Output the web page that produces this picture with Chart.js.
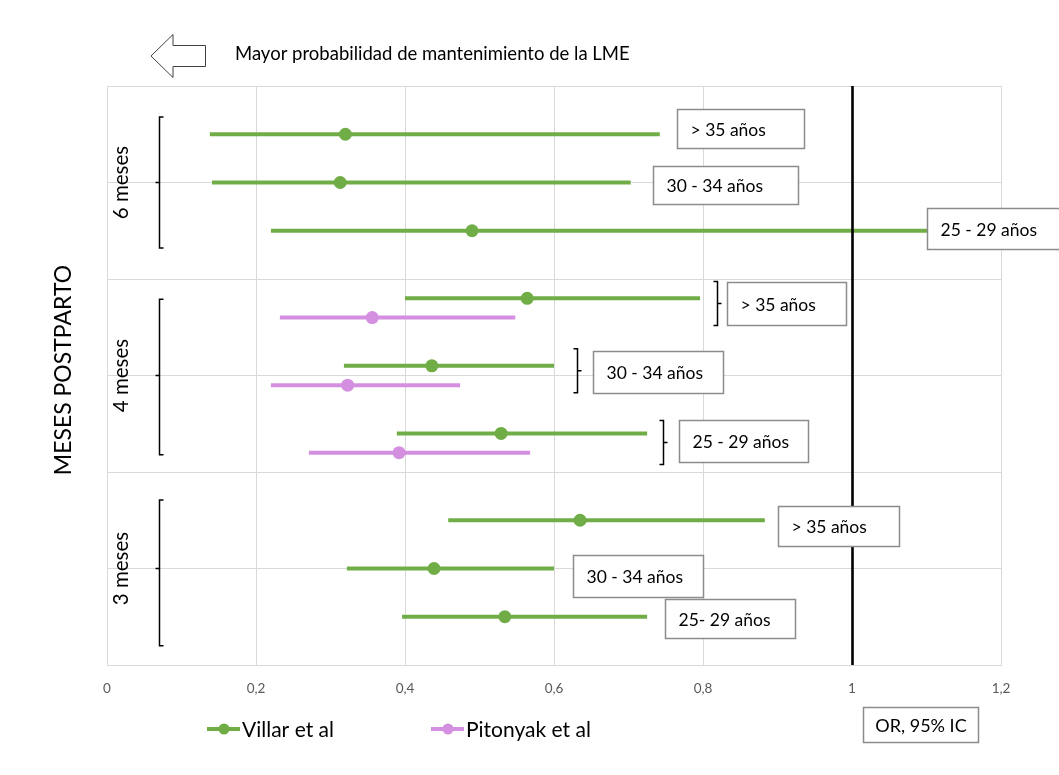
<!DOCTYPE html>
<html lang="es">
<head>
<meta charset="utf-8">
<script src="https://cdn.jsdelivr.net/npm/chart.js@4.4.1/dist/chart.umd.min.js"></script>
<style>
  html, body { margin: 0; padding: 0; background: #ffffff; }
  #wrap { width: 1059px; height: 775px; }
</style>
</head>
<body>
<div id="wrap"><canvas id="forest" width="1059" height="775"></canvas></div>
<script>
// ---- Data -------------------------------------------------------------
const xTicks = [0, 0.2, 0.4, 0.6, 0.8, 1, 1.2];
const months = ['6 meses', '4 meses', '3 meses'];
const monthCenter = [5, 3, 1];
const monthSpan = [[5.68, 4.32], [3.79, 2.18], [1.71, 0.2]];

// Villar et al: one row per age group, 6, 4 and 3 months postpartum
const villarY  = [5.5, 5.0, 4.5, 3.8, 3.1, 2.4, 1.5, 1.0, 0.5];
const villarOR = [0.32, 0.313, 0.49, 0.564, 0.436, 0.529, 0.635, 0.439, 0.534];
const villarLo = [0.138, 0.141, 0.22, 0.40, 0.318, 0.389, 0.458, 0.322, 0.396];
const villarHi = [0.742, 0.703, 1.12, 0.796, 0.60, 0.725, 0.883, 0.60, 0.725];

// Pitonyak et al: 4 months postpartum only
const pitonyakY  = [3.6, 2.9, 2.2];
const pitonyakOR = [0.356, 0.323, 0.392];
const pitonyakLo = [0.232, 0.22, 0.271];
const pitonyakHi = [0.548, 0.474, 0.568];

// Age-group call-outs
const ageLabels = ['> 35 años', '30 - 34 años', '25 - 29 años',
                   '> 35 años', '30 - 34 años', '25 - 29 años',
                   '> 35 años', '30 - 34 años', '25- 29 años'];
const labelX = [0.765, 0.733, 1.101, 0.832, 0.652, 0.768, 0.901, 0.626, 0.749];
const labelY = [5.56, 4.97, 4.52, 3.746, 3.036, 2.321, 1.44, 0.922, 0.482];
const labelW = [127, 145, 160, 119, 130, 129, 121, 130, 130];
const labelH = [39, 38, 41, 43, 42, 42, 40, 42, 39];

// Small braces joining the two studies at 4 months
const braceX = [0.819, 0.631, 0.746];
const braceY = [3.746, 3.05, 2.306];

const seriesNames = ['Villar et al', 'Pitonyak et al'];
const GREEN = '#70AD47';
const PINK = '#D48FE0';
const FONT = 'Lato, "Open Sans", sans-serif';

// ---- Datasets: one horizontal interval per row -------------------------
function rows(ys, lo, or, hi, color, name) {
  return ys.map((y, i) => ({
    label: name,
    data: [{ x: lo[i], y }, { x: or[i], y }, { x: hi[i], y }],
    showLine: true,
    borderColor: color,
    backgroundColor: color,
    borderWidth: 4,
    borderCapStyle: 'butt',
    pointRadius: [0, 6.5, 0],
    pointHoverRadius: [0, 6.5, 0],
    pointBorderWidth: 0
  }));
}

const datasets = [
  ...rows(villarY, villarLo, villarOR, villarHi, GREEN, seriesNames[0]),
  ...rows(pitonyakY, pitonyakLo, pitonyakOR, pitonyakHi, PINK, seriesNames[1])
];

function fmtTick(v) {
  return String(Number(v.toFixed(1))).replace('.', ',');
}

// ---- Decorations drawn on top of the data -------------------------------
const decorations = {
  id: 'decorations',
  afterDatasetsDraw(chart) {
    const ctx = chart.ctx;
    const xs = chart.scales.x, ys = chart.scales.y;
    const area = chart.chartArea;
    ctx.save();

    // reference line at OR = 1
    const x1 = Math.round(xs.getPixelForValue(1)) + 0.5;
    ctx.strokeStyle = '#000000';
    ctx.lineWidth = 2.6;
    ctx.beginPath();
    ctx.moveTo(x1, area.top);
    ctx.lineTo(x1, area.bottom);
    ctx.stroke();

    // left brackets grouping each month
    ctx.lineWidth = 1.5;
    ctx.strokeStyle = '#000000';
    const bx = Math.round(xs.getPixelForValue(0.07)) + 0.5;
    monthSpan.forEach((s, i) => {
      const t = ys.getPixelForValue(s[0]);
      const b = ys.getPixelForValue(s[1]);
      const c = ys.getPixelForValue(monthCenter[i]);
      ctx.beginPath();
      ctx.moveTo(bx + 4, t); ctx.lineTo(bx, t); ctx.lineTo(bx, b); ctx.lineTo(bx + 4, b);
      ctx.moveTo(bx, c); ctx.lineTo(bx - 4, c);
      ctx.stroke();
    });

    // small right braces at 4 months
    braceX.forEach((v, i) => {
      const x = Math.round(xs.getPixelForValue(v)) + 0.5;
      const c = ys.getPixelForValue(braceY[i]);
      const h = 22;
      ctx.beginPath();
      ctx.moveTo(x - 4, c - h); ctx.lineTo(x, c - h); ctx.lineTo(x, c + h); ctx.lineTo(x - 4, c + h);
      ctx.moveTo(x, c); ctx.lineTo(x + 4, c);
      ctx.stroke();
    });

    // age-group boxes
    ctx.font = '17.5px ' + FONT;
    ctx.textBaseline = 'middle';
    ctx.textAlign = 'left';
    ageLabels.forEach((txt, i) => {
      const left = Math.round(xs.getPixelForValue(labelX[i])) + 0.5;
      const cy = ys.getPixelForValue(labelY[i]);
      const top = Math.round(cy - labelH[i] / 2) + 0.5;
      ctx.fillStyle = '#ffffff';
      ctx.fillRect(left, top, labelW[i], labelH[i]);
      ctx.strokeStyle = '#8c8c8c';
      ctx.lineWidth = 1.5;
      ctx.strokeRect(left, top, labelW[i], labelH[i]);
      ctx.fillStyle = '#000000';
      ctx.fillText(txt, left + 13, top + labelH[i] / 2 + 1);
    });

    ctx.restore();
  },
  afterDraw(chart) {
    const ctx = chart.ctx;
    const ys = chart.scales.y;
    ctx.save();

    // month names along the category axis
    ctx.fillStyle = '#000000';
    ctx.font = '20.5px ' + FONT;
    ctx.textAlign = 'center';
    ctx.textBaseline = 'middle';
    months.forEach((m, i) => {
      ctx.save();
      ctx.translate(121, ys.getPixelForValue(monthCenter[i]));
      ctx.rotate(-Math.PI / 2);
      ctx.fillText(m, 0, 0);
      ctx.restore();
    });

    // axis title
    ctx.save();
    ctx.font = '23px ' + FONT;
    ctx.translate(64, 370);
    ctx.rotate(-Math.PI / 2);
    ctx.fillText('MESES POSTPARTO', 0, 0);
    ctx.restore();

    // direction arrow and caption
    ctx.beginPath();
    ctx.moveTo(151, 56);
    ctx.lineTo(173, 34.5);
    ctx.lineTo(173, 45.5);
    ctx.lineTo(205.5, 45.5);
    ctx.lineTo(205.5, 66.5);
    ctx.lineTo(173, 66.5);
    ctx.lineTo(173, 77.5);
    ctx.closePath();
    ctx.fillStyle = '#ffffff';
    ctx.fill();
    ctx.strokeStyle = '#404040';
    ctx.lineWidth = 1;
    ctx.stroke();

    ctx.fillStyle = '#000000';
    ctx.font = '18.5px ' + FONT;
    ctx.textAlign = 'left';
    ctx.fillText('Mayor probabilidad de mantenimiento de la LME', 235, 54);

    // legend
    const legend = [
      { x: 207, color: GREEN, name: seriesNames[0] },
      { x: 431, color: PINK, name: seriesNames[1] }
    ];
    ctx.font = '21px ' + FONT;
    legend.forEach(l => {
      ctx.strokeStyle = l.color;
      ctx.lineWidth = 4;
      ctx.beginPath();
      ctx.moveTo(l.x, 729);
      ctx.lineTo(l.x + 33, 729);
      ctx.stroke();
      ctx.fillStyle = l.color;
      ctx.beginPath();
      ctx.arc(l.x + 17, 729, 5.5, 0, Math.PI * 2);
      ctx.fill();
      ctx.fillStyle = '#000000';
      ctx.fillText(l.name, l.x + 35, 730);
    });

    // OR label box
    ctx.fillStyle = '#ffffff';
    ctx.fillRect(863.5, 707.5, 115, 35);
    ctx.strokeStyle = '#8c8c8c';
    ctx.lineWidth = 1.5;
    ctx.strokeRect(863.5, 707.5, 115, 35);
    ctx.fillStyle = '#000000';
    ctx.font = '18px ' + FONT;
    ctx.textAlign = 'center';
    ctx.fillText('OR, 95% IC', 921, 726);

    ctx.restore();
  }
};

new Chart(document.getElementById('forest'), {
  type: 'scatter',
  data: { datasets },
  options: {
    responsive: false,
    devicePixelRatio: 1,
    animation: false,
    layout: { padding: { left: 100, right: 58, top: 86, bottom: 70 } },
    plugins: {
      legend: { display: false },
      tooltip: { enabled: false }
    },
    scales: {
      x: {
        type: 'linear',
        min: xTicks[0],
        max: xTicks[xTicks.length - 1],
        afterBuildTicks(axis) { axis.ticks = xTicks.map(v => ({ value: v })); },
        afterFit(axis) { axis.height = 40; },
        grid: { color: '#d9d9d9', lineWidth: 1, drawTicks: false },
        border: { color: '#d9d9d9' },
        ticks: {
          padding: 16,
          color: '#595959',
          font: { family: FONT, size: 13.5 },
          callback: v => fmtTick(v)
        }
      },
      y: {
        type: 'linear',
        min: 0,
        max: 6,
        afterFit(axis) { axis.width = 7; },
        grid: { color: '#d9d9d9', lineWidth: 1, drawTicks: false },
        border: { color: '#d9d9d9' },
        ticks: { display: false, stepSize: 1 }
      }
    }
  },
  plugins: [decorations]
});
</script>
</body>
</html>
